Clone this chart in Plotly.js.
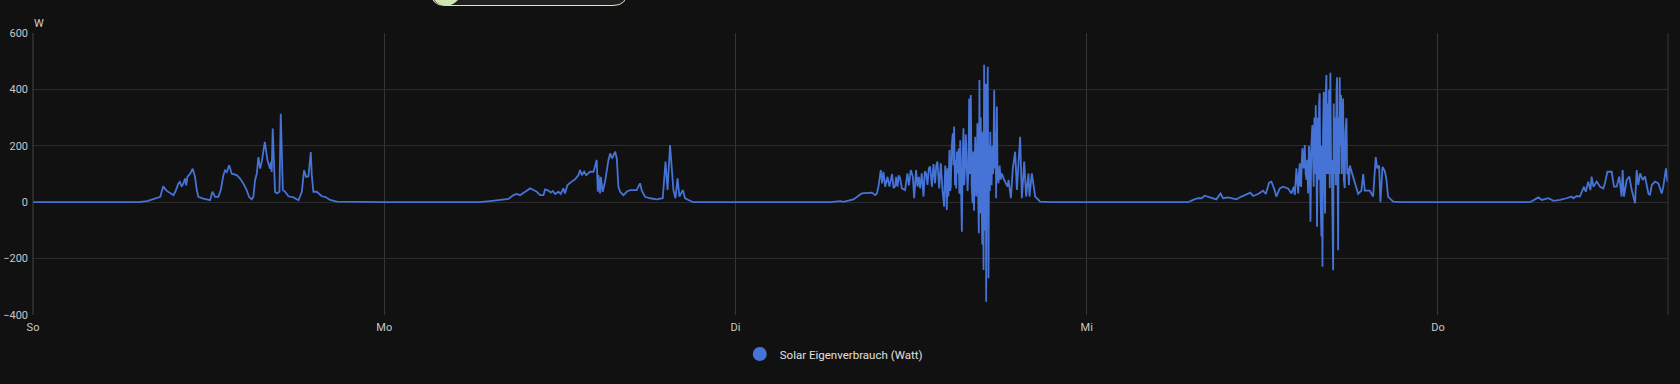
<!DOCTYPE html>
<html>
<head>
<meta charset="utf-8">
<script src="https://cdn.plot.ly/plotly-3.0.1.min.js"></script>
<style>
  html, body { margin: 0; padding: 0; background: #111111; }
  #chart { width: 1680px; height: 384px; }
</style>
</head>
<body>
<div id="chart"></div>
<script>
// Day labels (German weekday abbreviations)
const dayLabels = ["So", "Mo", "Di", "Mi", "Do"];
const seriesName = "Solar Eigenverbrauch (Watt)";
const unitLabel = "W";

// Hours since midnight and watts, one pair of arrays per day
const soHours = [0, 7.2, 7.8, 8.3, 8.7, 8.9, 9.0, 9.15, 9.4, 9.6,
  9.75, 9.93, 10.04, 10.16, 10.3, 10.39, 10.47, 10.55, 10.65, 10.73,
  10.91, 11.07, 11.19, 11.30, 11.64, 12.10, 12.26, 12.44, 12.67, 12.83,
  13.01, 13.12, 13.24, 13.40, 13.58, 13.92, 14.15, 14.38, 14.60, 14.76,
  14.94, 15.06, 15.17, 15.29, 15.40, 15.52, 15.63, 15.84, 16.02, 16.20,
  16.27, 16.31, 16.38, 16.45, 16.54, 16.66, 16.84, 16.93, 17.07, 17.23,
  17.45, 17.80, 18.14, 18.37, 18.52, 18.66, 18.82, 18.98, 19.05, 19.16,
  19.39, 19.73, 19.96, 20.30, 20.76];
const soWatts = [0, 0, 4, 12, 19, 57, 48, 40, 30, 25,
  40, 66, 72, 55, 70, 84, 60, 90, 96, 100,
  119, 90, 43, 19, 13, 7, 37, 19, 19, 43,
  96, 113, 107, 131, 101, 96, 84, 66, 43, 19,
  10, 19, 78, 101, 160, 119, 143, 214, 149, 119,
  143, 107, 261, 150, 37, 31, 37, 314, 43, 37,
  21, 17, 7, 37, 113, 90, 92, 178, 96, 37,
  37, 21, 19, 8, 2];

const moHours = [0, 6.5, 7.23, 7.9, 8.5, 8.83, 9.06, 9.28, 9.51, 9.74,
  9.97, 10.2, 10.42, 10.65, 10.88, 10.99, 11.22, 11.38, 11.52, 11.68,
  11.9, 12.06, 12.24, 12.35, 12.52, 12.81, 13.04, 13.27, 13.38, 13.5,
  13.66, 13.8, 14.07, 14.3, 14.52, 14.59, 14.64, 14.75, 14.8, 14.93,
  15.09, 15.32, 15.44, 15.57, 15.70, 15.78, 15.89, 16.0, 16.12, 16.34,
  16.57, 16.8, 17.25, 17.48, 17.59, 17.82, 18.17, 18.62, 19.03, 19.22,
  19.36, 19.53, 19.76, 19.9, 20.04, 20.17, 20.4, 20.56, 20.79, 21.1];
const moWatts = [0, 0, 4, 8, 12, 25, 29, 25, 34, 41,
  49, 43, 37, 25, 25, 45, 41, 34, 40, 29,
  37, 29, 49, 31, 61, 73, 81, 96, 114, 96,
  108, 96, 108, 108, 150, 37, 96, 31, 90, 37,
  73, 150, 173, 155, 167, 179, 155, 55, 37, 25,
  37, 43, 43, 67, 43, 19, 14, 10, 14, 144,
  43, 203, 43, 14, 85, 20, 43, 14, 8, 0];

const diHours = [0, 6.47, 7.15, 7.38, 8.06, 8.40, 8.63, 9.32, 9.55, 9.66,
  9.77, 9.93, 10.02, 10.11, 10.23, 10.39, 10.52, 10.70, 10.80, 10.91,
  10.98, 11.07, 11.16, 11.25, 11.37, 11.59, 11.75, 11.85, 11.98, 12.12,
  12.21, 12.34, 12.44, 12.53, 12.62, 12.73, 12.85, 12.94, 13.03, 13.12,
  13.21, 13.30, 13.42, 13.53, 13.64, 13.72, 13.80, 13.92, 14.03, 14.15,
  14.26, 14.33, 14.40, 14.44, 14.50, 14.55, 14.62, 14.67, 14.71, 14.78,
  14.85, 14.90, 14.94, 15.00, 15.04, 15.08, 15.13, 15.19, 15.25, 15.30,
  15.36, 15.41, 15.47, 15.52, 15.58, 15.63, 15.69, 15.74, 15.81, 15.86,
  15.92, 15.97, 16.02, 16.08, 16.14, 16.20, 16.25, 16.30, 16.38, 16.42,
  16.45, 16.49, 16.53, 16.58, 16.63, 16.67, 16.72, 16.76, 16.81, 16.86,
  16.90, 16.95, 16.99, 17.03, 17.06, 17.10, 17.13, 17.16, 17.20, 17.24,
  17.29, 17.33, 17.38, 17.41, 17.45, 17.50, 17.56, 17.61, 17.68, 17.73,
  17.78, 17.81, 17.86, 17.91, 17.97, 18.05, 18.12, 18.20, 18.36, 18.59,
  18.66, 18.82, 18.95, 19.11, 19.23, 19.45, 19.57, 19.73, 19.86, 20.02,
  20.09, 20.25, 20.48, 20.82, 21.5];
const diWatts = [0, 0, 4, 1, 10, 22, 31, 34, 25, 31,
  55, 114, 67, 108, 55, 90, 55, 100, 50, 57,
  90, 55, 95, 85, 49, 43, 102, 60, 114, 90,
  14, 114, 55, 90, 49, 102, 20, 110, 102, 61,
  120, 126, 55, 135, 67, 130, 144, 49, 138, 40,
  -16, 130, 96, -28, 120, 20, 185, 40, 55, 200,
  244, 130, 268, 60, 150, 49, 180, 102, 190, 30,
  220, 60, -105, 150, 262, 60, 126, 240, 150, 40,
  126, 368, 100, 380, 60, -4, 180, -30, 232, 60,
  20, 79, 280, 40, -110, 433, -40, 300, 100, -150,
  250, -240, 487, -100, 150, 420, -353, 100, 300, 480,
  -270, 200, 40, 250, 126, 60, 200, 100, 398, 120,
  250, 14, 339, 100, 67, 130, 80, 102, 79, 55,
  79, 14, 120, 179, 43, 232, 14, 144, 20, 102,
  20, 102, 20, 2, 0];

const miHours = [0, 6.93, 7.27, 7.61, 7.84, 8.07, 8.41, 8.86, 9.14, 9.32,
  9.66, 10.23, 10.57, 10.87, 11.19, 11.37, 11.71, 12.05, 12.24, 12.46,
  12.62, 12.80, 12.96, 13.19, 13.42, 13.76, 13.99, 14.15, 14.22, 14.33,
  14.40, 14.45, 14.50, 14.56, 14.60, 14.65, 14.70, 14.74, 14.82, 14.90,
  14.96, 15.02, 15.07, 15.13, 15.18, 15.24, 15.29, 15.35, 15.42, 15.46,
  15.51, 15.56, 15.60, 15.65, 15.70, 15.74, 15.79, 15.84, 15.88, 15.92,
  15.97, 16.04, 16.07, 16.11, 16.15, 16.20, 16.25, 16.29, 16.33, 16.38,
  16.42, 16.47, 16.52, 16.56, 16.61, 16.65, 16.70, 16.74, 16.79, 16.84,
  16.88, 16.92, 16.97, 17.02, 17.07, 17.11, 17.15, 17.18, 17.22, 17.26,
  17.29, 17.34, 17.38, 17.43, 17.48, 17.52, 17.57, 17.63, 17.68, 17.75,
  17.80, 17.86, 17.92, 17.98, 18.20, 18.39, 18.55, 18.77, 18.89, 19.00,
  19.34, 19.57, 19.75, 19.85, 19.98, 20.07, 20.21, 20.37, 20.48, 20.59,
  20.94, 21.4];
const miWatts = [0, 0, 8, 14, 14, 23, 17, 10, 31, 14,
  17, 10, 20, 26, 34, 22, 29, 41, 29, 69,
  73, 49, 20, 49, 55, 49, 31, 55, 26, 120,
  40, 31, 100, 138, 60, 55, 150, 191, 120, 203,
  100, 79, 150, 31, 200, 161, -69, 200, 274, 80,
  55, 300, 100, 344, 50, -87, 300, 80, 350, 386,
  40, -122, 200, -229, 250, 392, 60, -40, 380, 451,
  100, 350, 100, 400, 50, 459, 100, 150, -50, -241,
  350, 100, 300, 60, 400, 443, 50, -170, 300, 100,
  443, 200, 380, 100, 300, 368, 80, 50, 250, 298,
  100, 120, 60, 130, 90, 60, 30, 41, 100, 41,
  41, 20, 160, 120, 130, 0, 125, 110, 80, 20,
  2, 0];

const doHours = [0, 6.29, 6.63, 6.86, 7.10, 7.54, 7.90, 8.34, 8.79, 9.13,
  9.25, 9.48, 9.70, 9.82, 9.98, 10.10, 10.27, 10.42, 10.50, 10.62,
  10.85, 11.08, 11.30, 11.41, 11.58, 11.87, 12.03, 12.21, 12.39, 12.55,
  12.62, 12.71, 12.90, 13.08, 13.24, 13.47, 13.58, 13.69, 13.81, 13.99,
  14.15, 14.38, 14.49, 14.61, 14.83, 15.06, 15.29, 15.40, 15.58, 15.68,
  15.72];
const doWatts = [0, 0, 10, 17, 8, 14, 5, 8, 14, 20,
  14, 22, 20, 37, 55, 37, 73, 43, 91, 55,
  73, 55, 49, 67, 108, 108, 55, 55, 91, 20,
  114, 20, 79, 91, 43, -4, 114, 61, 102, 79,
  91, 31, 25, 61, 73, 67, 31, 55, 120, 73,
  85];

const yTicks = [-400, -200, 0, 200, 400, 600];

// ---- build the series ----
const dayHours = [soHours, moHours, diHours, miHours, doHours];
const dayWatts = [soWatts, moWatts, diWatts, miWatts, doWatts];
const xs = [], ys = [];
dayHours.forEach((hrs, d) => {
  const w = dayWatts[d];
  const n = Math.min(hrs.length, w.length);
  for (let i = 0; i < n; i++) { xs.push(d * 24 + hrs[i]); ys.push(w[i]); }
});
const xEnd = xs[xs.length - 1];

const lineColor = "#4673d6";
const font = "Roboto, 'Open Sans', sans-serif";

const traces = [
  { x: xs, y: ys, type: "scatter", mode: "lines", line: { color: lineColor, width: 1.8 },
    showlegend: false, hoverinfo: "skip", name: seriesName },
  { x: [null], y: [null], type: "scatter", mode: "markers",
    marker: { color: lineColor, size: 14, symbol: "circle" }, name: seriesName, showlegend: true }
];

// pill element at top (paper coordinates derived from pixels)
const L = 33, T = 33, W = 1635, H = 282;
const px = v => (v - L) / W;
const py = v => (T + H - v) / H;
const pill = `M ${px(431)},${py(-40)} L ${px(431)},${py(-8.5)} Q ${px(431)},${py(5.5)} ${px(445)},${py(5.5)} L ${px(613)},${py(5.5)} Q ${px(627)},${py(5.5)} ${px(627)},${py(-8.5)} L ${px(627)},${py(-40)} Z`;

const layout = {
  width: 1680, height: 384,
  paper_bgcolor: "#111111", plot_bgcolor: "#111111",
  margin: { l: 33, r: 12, t: 33, b: 69, pad: 0 },
  font: { family: font, color: "#c8c8c8", size: 11 },
  xaxis: {
    type: "linear", range: [0, xEnd],
    tickvals: [0, 24, 48, 72, 96], ticktext: dayLabels,
    showgrid: true, gridcolor: "#363636", gridwidth: 1,
    zeroline: false, showline: false, ticks: "", ticklabelstandoff: 4,
    tickfont: { size: 11, color: "#c8c8c8" }, fixedrange: true
  },
  yaxis: {
    range: [-400, 600], tickvals: yTicks,
    showgrid: true, gridcolor: "#2c2c2c", gridwidth: 1,
    zeroline: false, showline: false, ticks: "", ticklabelstandoff: 4,
    tickfont: { size: 11, color: "#c8c8c8" }, fixedrange: true
  },
  showlegend: true,
  legend: {
    orientation: "h", xref: "container", yref: "container",
    x: 0.4963, xanchor: "center", y: 1 - 354 / 384, yanchor: "middle",
    font: { size: 11.5, color: "#e0e0e0", family: font }, bgcolor: "rgba(0,0,0,0)",
    itemwidth: 30
  },
  annotations: [
    { text: unitLabel, xref: "paper", yref: "paper", x: 0, y: 1, xanchor: "left", yanchor: "bottom",
      yshift: 1, xshift: -1, showarrow: false, font: { size: 11, color: "#d0d0d0", family: font } }
  ],
  shapes: [
    { type: "line", xref: "paper", yref: "paper", x0: 1, x1: 1, y0: 0, y1: 1, line: { color: "#363636", width: 1 } },
    { type: "line", xref: "paper", yref: "paper", x0: 0, x1: 0, y0: 0, y1: 1, line: { color: "#444444", width: 1 } },
    { type: "path", xref: "paper", yref: "paper", path: pill, fillcolor: "#202020", line: { color: "#d3e8bb", width: 1 } },
    { type: "circle", xref: "paper", yref: "paper", x0: px(430.5), x1: px(461.5), y0: py(5.5), y1: py(-25.5),
      fillcolor: "#cfe6b2", line: { width: 0 } }
  ]
};

Plotly.newPlot("chart", traces, layout, { displayModeBar: false, staticPlot: true });
</script>
</body>
</html>
